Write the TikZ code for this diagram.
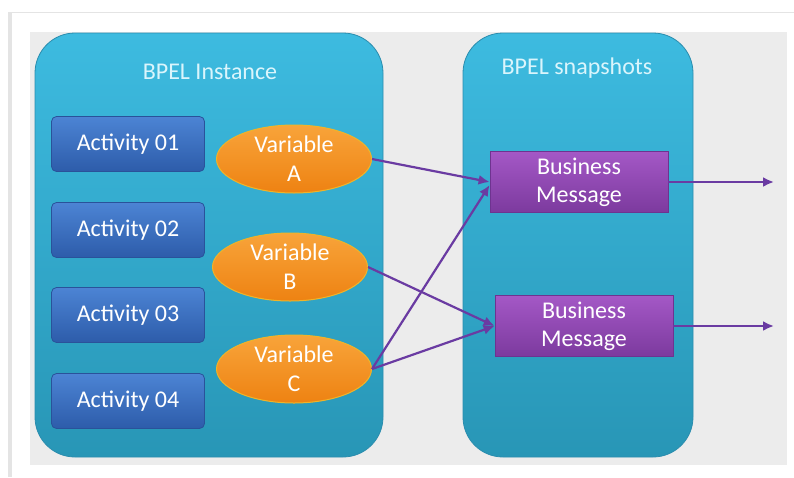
\documentclass[tikz,border=0pt]{standalone}
\usepackage{fontspec}
\setmainfont{Carlito}
\usetikzlibrary{shapes.geometric,arrows.meta}
\definecolor{panelgray}{HTML}{ECECEC}
\definecolor{framegray}{HTML}{E4E4E4}
\definecolor{boxtop}{HTML}{3DBBE0}
\definecolor{boxbot}{HTML}{2896B6}
\definecolor{boxline}{HTML}{2B8DAE}
\definecolor{acttop}{HTML}{4C84D4}
\definecolor{actbot}{HTML}{2D5CAA}
\definecolor{actline}{HTML}{2A529A}
\definecolor{vartop}{HTML}{F8A43A}
\definecolor{varbot}{HTML}{EE8212}
\definecolor{varline}{HTML}{F0B428}
\definecolor{msgtop}{HTML}{A458C6}
\definecolor{msgbot}{HTML}{7C3A9E}
\definecolor{msgline}{HTML}{6E3390}
\definecolor{flowc}{HTML}{6A3BA2}
\definecolor{titlec}{HTML}{DAF5FC}
\begin{document}
\begin{tikzpicture}[x=1pt,y=-1pt,
  container/.style={rectangle,rounded corners=40pt,top color=boxtop,bottom color=boxbot,draw=boxline,line width=0.8pt,minimum height=424pt},
  boxtitle/.style={text=titlec,font=\fontsize{24}{28}\selectfont},
  activity/.style={rectangle,rounded corners=5pt,top color=acttop,bottom color=actbot,draw=actline,line width=0.8pt,minimum width=153pt,minimum height=55pt,text=white,font=\fontsize{24}{28}\selectfont},
  varnode/.style={ellipse,inner sep=0pt,top color=vartop,bottom color=varbot,draw=varline,line width=1pt,minimum width=155pt,minimum height=68pt,text=white,align=center,font=\fontsize{24}{29}\selectfont},
  msgnode/.style={rectangle,top color=msgtop,bottom color=msgbot,draw=msgline,line width=0.8pt,minimum width=178pt,minimum height=61pt,text=white,align=center,font=\fontsize{24}{28}\selectfont},
  flow/.style={draw=flowc,line width=2.2pt,-{Latex[length=11pt,width=10pt]}}]
\useasboundingbox (0,0) rectangle (794,477);
\draw[framegray,line width=1pt] (8,12.5) -- (794,12.5);
\fill[framegray] (8,12) rectangle (12,477);
\fill[panelgray] (30,32) rectangle (787,465);
\node[container,minimum width=348pt] (instance) at (209,245) {};
\node[container,minimum width=230pt] (snapshots) at (578,245) {};
\node[boxtitle] (instancetitle) at (210,72) {BPEL Instance};
\node[boxtitle] (snapshotstitle) at (577,68) {BPEL snapshots};
\foreach \n/\y in {01/144,02/230,03/315,04/401}{
  \node[activity] (act\n) at (128,\y) {Activity \n};}
\node[varnode] (varA) at (294,159) {Variable\\A};
\node[varnode] (varB) at (290,267) {Variable\\B};
\node[varnode] (varC) at (294,369) {Variable\\C};
\node[msgnode] (msg1) at (579,182) {Business\\Message};
\node[msgnode] (msg2) at (584,326) {Business\\Message};
\coordinate (out1) at (774,182);
\coordinate (out2) at (774,326);
\draw[flow] (varA.east) -- (msg1.west);
\draw[flow] (varC.east) -- ([yshift=-3pt]msg1.west);
\draw[flow] (varB.east) -- (msg2.west);
\draw[flow] (varC.east) -- (msg2.west);
\draw[flow] (msg1.east) -- (out1);
\draw[flow] (msg2.east) -- (out2);
\end{tikzpicture}
\end{document}
